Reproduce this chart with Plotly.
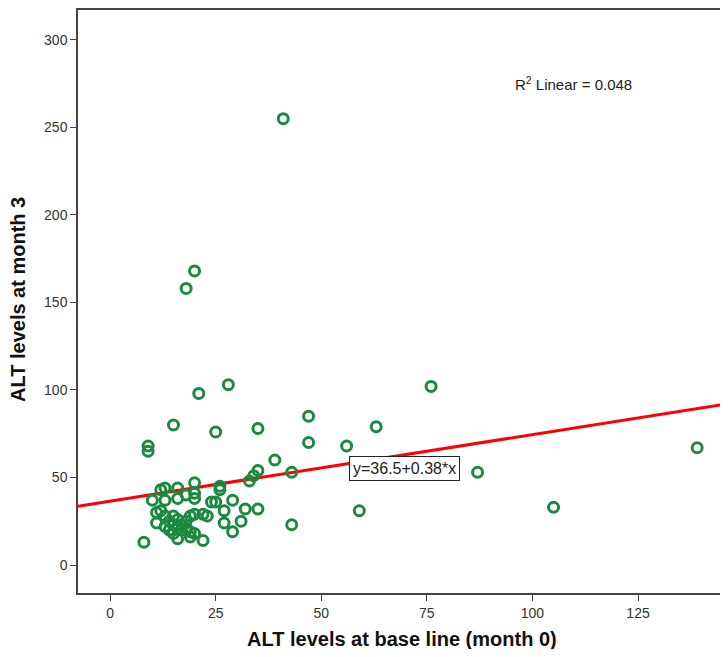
import plotly.graph_objects as go

# ALT at baseline (month 0) and month 3
alt_month0 = [41, 20, 18, 28, 21, 76, 15, 25, 35, 63, 47, 47, 9, 9, 56, 39, 35, 34, 33, 43,
              87, 139, 105, 59, 43, 35, 32, 31, 29, 29, 27, 27, 26, 26, 25, 24, 23, 22, 20, 20,
              20, 18, 16, 16, 13, 12, 10, 13, 8, 12, 13, 11, 15, 16, 13, 15, 16, 18, 19, 20,
              18, 17, 19, 16, 20, 14, 15, 17, 14, 19, 11, 22]
alt_month3 = [255, 168, 158, 103, 98, 102, 80, 76, 78, 79, 85, 70, 68, 65, 68, 60, 54, 51, 48, 53,
              53, 67, 33, 31, 23, 32, 32, 25, 37, 19, 24, 31, 45, 43, 36, 36, 28, 14, 47, 41,
              38, 40, 44, 38, 44, 43, 37, 37, 13, 31, 28, 24, 28, 26, 22, 23, 21, 25, 28, 29,
              21, 20, 16, 15, 18, 20, 18, 23, 25, 19, 30, 29]

fit_intercept = 36.5
fit_slope = 0.38
r2_linear = 0.048

x_title = "ALT levels at base line (month 0)"
y_title = "ALT levels at month 3"

x_range = [-7.6, 146.3]
y_range = [-16, 317.1]
x_ticks = [0, 25, 50, 75, 100, 125]
y_ticks = [0, 50, 100, 150, 200, 250, 300]

fit_x = x_range
fit_y = [fit_intercept + fit_slope * v for v in fit_x]

fig = go.Figure()
fig.add_trace(go.Scatter(
    x=fit_x, y=fit_y, mode="lines",
    line=dict(color="#ff0000", width=3),
    hoverinfo="skip", showlegend=False,
))
fig.add_trace(go.Scatter(
    x=alt_month0, y=alt_month3, mode="markers",
    marker=dict(symbol="circle-open", size=10, color="#1b8a3e", line=dict(width=3, color="#1b8a3e")),
    showlegend=False,
))

fig.add_annotation(
    x=69.8, y=54.9, xref="x", yref="y",
    text=f"y={fit_intercept}+{fit_slope}*x",
    showarrow=False, bgcolor="white", bordercolor="#222222", borderwidth=1, borderpad=3,
    font=dict(family="Liberation Sans, Arial, sans-serif", size=16, color="#222222"),
)
fig.add_annotation(
    x=109.6, y=274.9, xref="x", yref="y",
    text=f"R<sup>2</sup> Linear = {r2_linear}",
    showarrow=False,
    font=dict(family="Liberation Sans, Arial, sans-serif", size=15, color="#222222"),
)

title_font = dict(family="Liberation Sans, Arial, sans-serif", size=20, color="#111111")
fig.add_annotation(
    x=0.498, y=-0.0789, xref="paper", yref="paper",
    text=f"<b>{x_title}</b>", showarrow=False, font=title_font,
    xanchor="center", yanchor="middle",
)
fig.add_annotation(
    x=-0.0923, y=0.5026, xref="paper", yref="paper",
    text=f"<b>{y_title}</b>", showarrow=False, font=title_font, textangle=-90,
    xanchor="center", yanchor="middle",
)

axis_font = dict(family="Liberation Sans, Arial, sans-serif", size=14, color="#333333")

fig.update_xaxes(
    range=x_range, tickvals=x_ticks, ticks="outside", ticklen=6, tickcolor="#444444",
    showline=True, linecolor="#444444", linewidth=1.5, mirror=True,
    showgrid=False, zeroline=False, tickfont=axis_font, automargin=False,
)
fig.update_yaxes(
    range=y_range, tickvals=y_ticks, ticks="outside", ticklen=6, tickcolor="#444444",
    showline=True, linecolor="#444444", linewidth=1.5, mirror=False,
    showgrid=False, zeroline=False, tickfont=axis_font, automargin=False,
)

fig.update_layout(
    width=720, height=641,
    margin=dict(l=70, r=0, t=2, b=56),
    paper_bgcolor="white", plot_bgcolor="white",
)

fig.write_html("out.html")
